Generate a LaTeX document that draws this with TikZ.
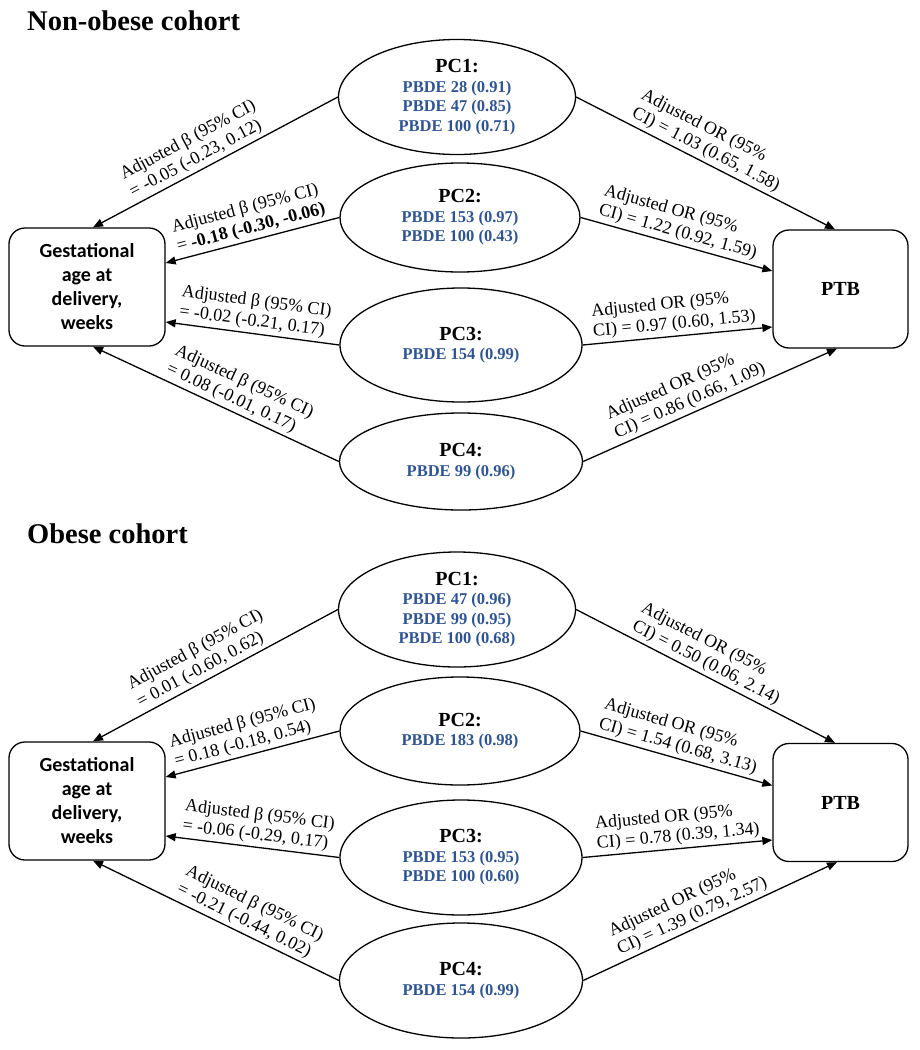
\documentclass[tikz,border=0pt]{standalone}
\usepackage{fontspec}
\setmainfont{Liberation Serif}
\newfontfamily\calib{Carlito}
\usetikzlibrary{shapes.geometric,arrows.meta}
\definecolor{pcblue}{RGB}{46,84,150}
\newcommand\pchead[1]{{\fontsize{20}{19.5}\selectfont #1}}
\newcommand\pcb[1]{\textcolor{pcblue}{#1}}
\begin{document}
\begin{tikzpicture}[x=1pt,y=-1pt,
  pc/.style={draw,ellipse,line width=1.3pt,inner sep=0pt,align=center,font=\fontsize{16.5}{19.5}\selectfont\bfseries},
  gbox/.style={draw,rounded corners=16pt,line width=1.3pt,inner sep=0pt,align=center,minimum width=156pt,minimum height=118pt,font=\calib\bfseries\fontsize{20}{24}\selectfont},
  pbox/.style={draw,rounded corners=16pt,line width=1.3pt,inner sep=0pt,align=center,minimum width=135pt,minimum height=118pt,font=\bfseries\fontsize{20}{24}\selectfont},
  conn/.style={line width=1.3pt,-{Triangle[length=10pt,width=8pt]}},
  lbl/.style={sloped,above=2pt,inner sep=1pt,align=left,font=\fontsize{18}{20}\selectfont},
  ttl/.style={anchor=base west,inner sep=0pt,font=\fontsize{28.5}{30}\selectfont\bfseries}
]
\useasboundingbox (0,0) rectangle (919,1050);

% ---------------- Non-obese cohort ----------------
\node[ttl] (t1) at (27,30) {Non-obese cohort};
\node[pc,minimum width=237pt,minimum height=115pt] (a1) at (457,97)
  {\pchead{PC1:}\\\pcb{PBDE 28 (0.91)}\\\pcb{PBDE 47 (0.85)}\\\pcb{PBDE 100 (0.71)}};
\node[pc,minimum width=240pt,minimum height=109pt] (a2) at (460,217.5)
  {\pchead{PC2:}\\\pcb{PBDE 153 (0.97)}\\\pcb{PBDE 100 (0.43)}};
\node[pc,minimum width=242pt,minimum height=114pt] (a3) at (461,345)
  {\pchead{PC3:}\\\pcb{PBDE 154 (0.99)}};
\node[pc,minimum width=243pt,minimum height=97pt] (a4) at (461,461.5)
  {\pchead{PC4:}\\\pcb{PBDE 99 (0.96)}};
\node[gbox] (ga) at (87,287) {Gestational\\age at\\delivery,\\weeks};
\node[pbox] (pa) at (840.5,289) {PTB};

\draw[conn] (a1.west) -- node[lbl,pos=.55] {Adjusted β (95\% CI)\\= -0.05 (-0.23, 0.12)} ([xshift=6pt]ga.north);
\draw[conn] (a2.west) -- node[lbl,pos=.49] {Adjusted β (95\% CI)\\= \textbf{-0.18 (-0.30, -0.06)}} ([yshift=24pt]ga.east);
\draw[conn] (a3.west) -- node[lbl,pos=.50] {Adjusted β (95\% CI)\\= -0.02 (-0.21, 0.17)} ([yshift=-35pt]ga.east);
\draw[conn] (a4.west) -- node[lbl,pos=.44] {Adjusted β (95\% CI)\\= 0.08 (-0.01, 0.17)} ([xshift=6pt]ga.south);

\draw[conn] (a1.east) -- node[lbl,pos=.48] {Adjusted OR (95\%\\CI) = 1.03 (0.65, 1.58)} ([xshift=-5.5pt]pa.north);
\draw[conn] (a2.east) -- node[lbl,pos=.49] {Adjusted OR (95\%\\CI) = 1.22 (0.92, 1.59)} ([yshift=18pt]pa.west);
\draw[conn] (a3.east) -- node[lbl,pos=.49] {Adjusted OR (95\%\\CI) = 0.97 (0.60, 1.53)} ([yshift=-38pt]pa.west);
\draw[conn] (a4.east) -- node[lbl,pos=.44] {Adjusted OR (95\%\\CI) = 0.86 (0.66, 1.09)} ([xshift=-3.5pt]pa.south);

% ---------------- Obese cohort ----------------
\node[ttl] (t2) at (27,543) {Obese cohort};
\node[pc,minimum width=237pt,minimum height=115pt] (b1) at (457,609.5)
  {\pchead{PC1:}\\\pcb{PBDE 47 (0.96)}\\\pcb{PBDE 99 (0.95)}\\\pcb{PBDE 100 (0.68)}};
\node[pc,minimum width=240pt,minimum height=108pt] (b2) at (460,731)
  {\pchead{PC2:}\\\pcb{PBDE 183 (0.98)}};
\node[pc,minimum width=242pt,minimum height=115pt] (b3) at (461,857.5)
  {\pchead{PC3:}\\\pcb{PBDE 153 (0.95)}\\\pcb{PBDE 100 (0.60)}};
\node[pc,minimum width=243pt,minimum height=115pt] (b4) at (461,980.5)
  {\pchead{PC4:}\\\pcb{PBDE 154 (0.99)}};
\node[gbox] (gb) at (87,801) {Gestational\\age at\\delivery,\\weeks};
\node[pbox] (pb) at (840.5,802.5) {PTB};

\draw[conn] (b1.west) -- node[lbl,pos=.52] {Adjusted β (95\% CI)\\= 0.01 (-0.60, 0.62)} ([xshift=6pt]gb.north);
\draw[conn] (b2.west) -- node[lbl,pos=.51] {Adjusted β (95\% CI)\\= 0.18 (-0.18, 0.54)} ([yshift=24pt]gb.east);
\draw[conn] (b3.west) -- node[lbl,pos=.48] {Adjusted β (95\% CI)\\= -0.06 (-0.29, 0.17)} ([yshift=-35pt]gb.east);
\draw[conn] (b4.west) -- node[lbl,pos=.40] {Adjusted β (95\% CI)\\= -0.21 (-0.44, 0.02)} ([xshift=6pt]gb.south);

\draw[conn] (b1.east) -- node[lbl,pos=.48] {Adjusted OR (95\%\\CI) = 0.50 (0.06, 2.14)} ([xshift=-5.5pt]pb.north);
\draw[conn] (b2.east) -- node[lbl,pos=.49] {Adjusted OR (95\%\\CI) = 1.54 (0.68, 3.13)} ([yshift=17pt]pb.west);
\draw[conn] (b3.east) -- node[lbl,pos=.51] {Adjusted OR (95\%\\CI) = 0.78 (0.39, 1.34)} ([yshift=-37.5pt]pb.west);
\draw[conn] (b4.east) -- node[lbl,pos=.45] {Adjusted OR (95\%\\CI) = 1.39 (0.79, 2.57)} ([xshift=-3.5pt]pb.south);
\end{tikzpicture}
\end{document}
